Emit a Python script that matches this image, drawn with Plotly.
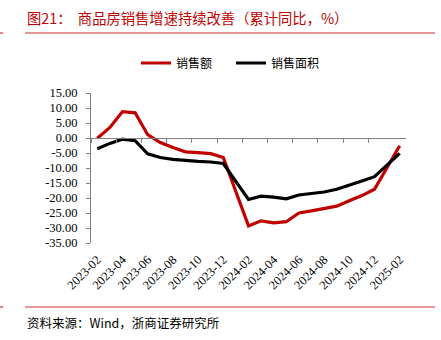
import plotly.graph_objects as go

months = ["2023-02","2023-03","2023-04","2023-05","2023-06","2023-07","2023-08",
          "2023-09","2023-10","2023-11","2023-12","2024-01","2024-02","2024-03",
          "2024-04","2024-05","2024-06","2024-07","2024-08","2024-09","2024-10",
          "2024-11","2024-12","2025-01","2025-02"]
sales_amount = [-0.1, 3.5, 8.8, 8.4, 1.1, -1.5, -3.2, -4.6, -4.9, -5.2, -6.5, None,
                -29.3, -27.6, -28.3, -27.9, -25.0, -24.3, -23.6, -22.7, -20.9, -19.2,
                -17.1, None, -2.6]
sales_area = [-3.6, -1.8, -0.4, -0.9, -5.3, -6.5, -7.1, -7.5, -7.8, -8.0, -8.5, None,
              -20.5, -19.4, -19.7, -20.3, -19.0, -18.6, -18.0, -17.1, -15.8, -14.3,
              -12.9, None, -5.1]
y_ticks = [15, 10, 5, 0, -5, -10, -15, -20, -25, -30, -35]
y_tick_text = ["15.00", "10.00", "5.00", "0.00", "-5.00", "-10.00", "-15.00",
               "-20.00", "-25.00", "-30.00", "-35.00"]

idx = list(range(len(months)))
label_idx = idx[::2]
label_text = months[::2]
boundary_ticks = [i - 0.5 for i in range(0, len(months) - 1, 2)]

RED = "#c00000"
SERIF = "Liberation Serif, Tinos, Times New Roman, serif"
CJK = "Noto Sans CJK SC"

fig = go.Figure()
fig.add_trace(go.Scatter(x=idx, y=sales_amount, mode="lines", name="销售额",
                         line=dict(color=RED, width=3.2), connectgaps=True))
fig.add_trace(go.Scatter(x=idx, y=sales_area, mode="lines", name="销售面积",
                         line=dict(color="#000000", width=3.2), connectgaps=True))

L, R, T, B = 91, 35, 93, 97
W, H = 441, 340
pw, ph = W - L - R, H - T - B

def px(x):
    return (x - L) / pw

def py(y):
    return (H - B - y) / ph

xr = [-0.5, len(months) - 0.5]
fig.update_layout(
    width=W, height=H,
    margin=dict(l=L, r=R, t=T, b=B),
    paper_bgcolor="white", plot_bgcolor="white",
    showlegend=True,
    legend=dict(orientation="h", x=px(136), y=py(63), xanchor="left", yanchor="middle",
                font=dict(family=CJK, size=12, color="#000"), bgcolor="rgba(0,0,0,0)",
                itemwidth=30, entrywidth=50, entrywidthmode="pixels", tracegroupgap=0),
    xaxis=dict(range=xr, tickmode="array", tickvals=label_idx, ticktext=label_text,
               tickangle=-45, ticks="", showline=False, showgrid=False, zeroline=False,
               tickfont=dict(family=SERIF, size=12.5, color="#000"), ticklabelstandoff=6),
    xaxis2=dict(range=xr, overlaying="x", anchor="free", position=0.7,
                tickmode="array", tickvals=boundary_ticks, ticks="outside", ticklen=4,
                tickcolor="#808080", showticklabels=False, showline=True,
                linecolor="#808080", linewidth=1, showgrid=False, zeroline=False),
    yaxis=dict(range=[-35, 15], tickmode="array", tickvals=y_ticks, ticktext=y_tick_text,
               ticks="outside", ticklen=4, tickcolor="#808080", showline=True,
               linecolor="#808080", linewidth=1, showgrid=False, zeroline=False,
               tickfont=dict(family=SERIF, size=12.5, color="#000"), ticklabelstandoff=6),
)
fig.add_trace(go.Scatter(x=[None], y=[None], xaxis="x2", showlegend=False, hoverinfo="skip"))

fig.add_annotation(text="图21：  商品房销售增速持续改善（累计同比，%）", xref="paper", yref="paper",
                   x=px(25), y=py(17), xanchor="left", yanchor="middle", showarrow=False,
                   font=dict(family=CJK, size=14.3, color=RED))
fig.add_annotation(text="资料来源：Wind，浙商证券研究所", xref="paper", yref="paper",
                   x=px(25), y=py(322), xanchor="left", yanchor="middle", showarrow=False,
                   font=dict(family=CJK, size=12.5, color="#000"))
for yy in (33, 307):
    fig.add_shape(type="line", xref="paper", yref="paper", x0=px(25), x1=px(435),
                  y0=py(yy), y1=py(yy), line=dict(color="#d03030", width=1.2))
    fig.add_shape(type="line", xref="paper", yref="paper", x0=px(0), x1=px(3),
                  y0=py(yy), y1=py(yy), line=dict(color="#d03030", width=1.2))

fig.write_html("out.html")
